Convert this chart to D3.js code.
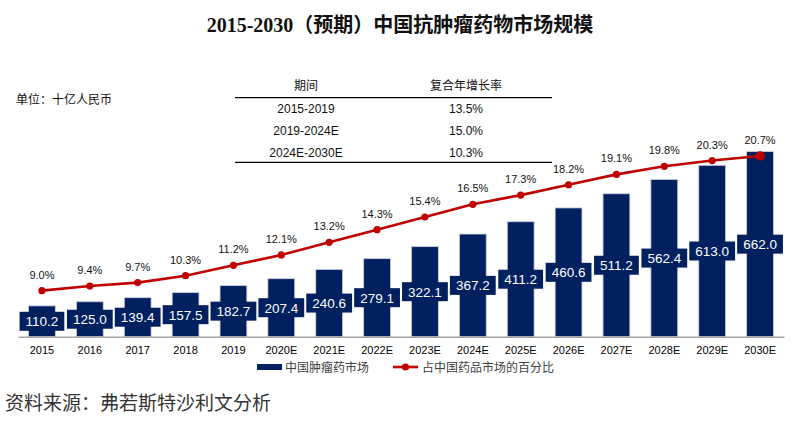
<!DOCTYPE html>
<html>
<head>
<meta charset="utf-8">
<script src="https://cdn.jsdelivr.net/npm/d3@7"></script>
<style>
  html, body { margin: 0; padding: 0; background: #fff; }
  svg { display: block; }
</style>
</head>
<body>
<div id="chart"></div>
<script>
(function () {
  "use strict";
  // data
  var years = ["2015", "2016", "2017", "2018", "2019", "2020E", "2021E", "2022E",
               "2023E", "2024E", "2025E", "2026E", "2027E", "2028E", "2029E", "2030E"];
  var market = [110.2, 125.0, 139.4, 157.5, 182.7, 207.4, 240.6, 279.1,
                322.1, 367.2, 411.2, 460.6, 511.2, 562.4, 613.0, 662.0];
  var share = [9.0, 9.4, 9.7, 10.3, 11.2, 12.1, 13.2, 14.3,
               15.4, 16.5, 17.3, 18.2, 19.1, 19.8, 20.3, 20.7];
  var cagrPeriods = ["2015-2019", "2019-2024E", "2024E-2030E"];
  var cagrValues = ["13.5%", "15.0%", "10.3%"];
  var cagrHeader = ["期间", "复合年增长率"];
  var seriesNames = ["中国肿瘤药市场", "占中国药品市场的百分比"];

  var NAVY = "#002060", RED = "#c00000", AXIS = "#a6a6a6";
  var SANS = "'Liberation Sans', Arial, 'Noto Sans CJK SC', sans-serif";
  var CJK = "'Noto Sans CJK SC', 'Liberation Sans', sans-serif";

  var W = 796, H = 429;
  var svg = d3.select("#chart").append("svg").attr("width", W).attr("height", H)
    .attr("viewBox", "0 0 " + W + " " + H);

  // title
  svg.append("text").attr("x", 400).attr("y", 32).attr("text-anchor", "middle")
    .attr("font-family", "'Liberation Serif', 'Times New Roman', 'Noto Sans CJK SC', serif")
    .attr("font-weight", "bold").attr("font-size", 20).attr("fill", "#111")
    .text("2015-2030（预期）中国抗肿瘤药物市场规模");

  // unit
  svg.append("text").attr("x", 16).attr("y", 104).attr("font-family", CJK)
    .attr("font-size", 12).attr("fill", "#111").text("单位：十亿人民币");

  // scales
  var x = d3.scaleBand().domain(years).range([18, 784]).paddingInner(0.44).paddingOuter(0.22);
  var y = d3.scaleLinear().domain([0, 700]).range([336.7, 141]);
  var y2 = d3.scaleLinear().domain([5, 22]).range([336.7, 141]);
  var cx = function (i) { return x(years[i]) + x.bandwidth() / 2; };

  // bars
  svg.append("g").selectAll("rect").data(market).enter().append("rect")
    .attr("x", function (d, i) { return x(years[i]); })
    .attr("y", function (d) { return y(d); })
    .attr("width", x.bandwidth())
    .attr("height", function (d) { return y(0) - y(d); })
    .attr("fill", NAVY).attr("stroke", "#c9cfdc").attr("stroke-width", 0.8);

  // x axis
  var ax = svg.append("g").attr("transform", "translate(0," + y(0) + ")")
    .call(d3.axisBottom(x).tickSize(0).tickPadding(10));
  ax.select(".domain").attr("stroke", AXIS).attr("stroke-width", 1.5);
  ax.selectAll("text").attr("font-family", SANS).attr("font-size", 11).attr("fill", "#000");

  // value labels in boxes, centred on bars
  var lab = svg.append("g").selectAll("g").data(market).enter().append("g")
    .attr("transform", function (d, i) { return "translate(" + cx(i) + "," + ((y(d) + y(0)) / 2) + ")"; });
  lab.append("rect").attr("class", "box").attr("fill", NAVY);
  lab.append("text").attr("text-anchor", "middle").attr("dy", "0.36em")
    .attr("font-family", SANS).attr("font-size", 13.5).attr("fill", "#fff")
    .text(function (d) { return d.toFixed(1); });
  lab.each(function () {
    var g = d3.select(this), w = g.select("text").node().getComputedTextLength() + 12;
    g.select("rect").attr("x", -w / 2).attr("y", -9.5).attr("width", w).attr("height", 19);
  });

  // share line
  var line = d3.line().x(function (d, i) { return cx(i); }).y(function (d) { return y2(d); });
  svg.append("path").attr("d", line(share)).attr("fill", "none")
    .attr("stroke", RED).attr("stroke-width", 2.6);
  svg.append("g").selectAll("circle").data(share).enter().append("circle")
    .attr("cx", function (d, i) { return cx(i); }).attr("cy", function (d) { return y2(d); })
    .attr("r", function (d, i) { return i === share.length - 1 ? 4.8 : 3.6; }).attr("fill", RED);
  svg.append("g").selectAll("text").data(share).enter().append("text")
    .attr("x", function (d, i) { return cx(i); }).attr("y", function (d) { return y2(d) - 16; })
    .attr("dy", "0.36em").attr("text-anchor", "middle")
    .attr("font-family", SANS).attr("font-size", 11).attr("fill", "#111")
    .text(function (d) { return d.toFixed(1) + "%"; });

  // CAGR table
  var tab = svg.append("g");
  var colX = [306, 466];
  cagrHeader.forEach(function (h, j) {
    tab.append("text").attr("x", colX[j]).attr("y", 90).attr("text-anchor", "middle")
      .attr("font-family", CJK).attr("font-size", 12).attr("fill", "#111").text(h);
  });
  [97.7, 162.3].forEach(function (ly) {
    tab.append("line").attr("x1", 235).attr("x2", 552).attr("y1", ly).attr("y2", ly)
      .attr("stroke", "#000").attr("stroke-width", 1.2);
  });
  cagrPeriods.forEach(function (p, i) {
    var ry = 112.5 + i * 22;
    tab.append("text").attr("x", colX[0]).attr("y", ry).attr("text-anchor", "middle")
      .attr("font-family", SANS).attr("font-size", 12).attr("fill", "#111").text(p);
    tab.append("text").attr("x", colX[1]).attr("y", ry).attr("text-anchor", "middle")
      .attr("font-family", SANS).attr("font-size", 12).attr("fill", "#111").text(cagrValues[i]);
  });

  // legend
  var leg = svg.append("g");
  leg.append("rect").attr("x", 257).attr("y", 364).attr("width", 25).attr("height", 6).attr("fill", NAVY);
  leg.append("text").attr("x", 285).attr("y", 371.5).attr("font-family", CJK)
    .attr("font-size", 12).attr("fill", "#404040").text(seriesNames[0]);
  leg.append("line").attr("x1", 393).attr("x2", 418).attr("y1", 367).attr("y2", 367)
    .attr("stroke", RED).attr("stroke-width", 2.6);
  leg.append("circle").attr("cx", 405.5).attr("cy", 367).attr("r", 3.6).attr("fill", RED);
  leg.append("text").attr("x", 422).attr("y", 371.5).attr("font-family", CJK)
    .attr("font-size", 12).attr("fill", "#404040").text(seriesNames[1]);

  // source
  svg.append("text").attr("x", 5).attr("y", 410).attr("font-family", CJK)
    .attr("font-size", 19).attr("fill", "#333").text("资料来源：弗若斯特沙利文分析");
})();
</script>
</body>
</html>
